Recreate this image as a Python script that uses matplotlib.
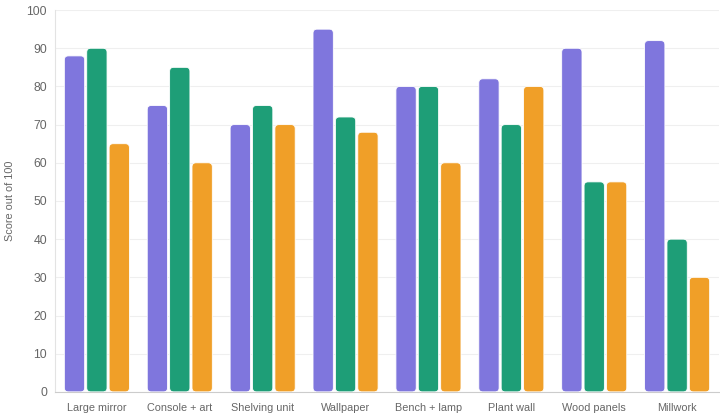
import matplotlib.pyplot as plt
import numpy as np
from matplotlib.patches import FancyBboxPatch

categories = ['Large mirror', 'Console + art', 'Shelving unit', 'Wallpaper',
              'Bench + lamp', 'Plant wall', 'Wood panels', 'Millwork']
series_a = [88, 75, 70, 95, 80, 82, 90, 92]
series_b = [90, 85, 75, 72, 80, 70, 55, 40]
series_c = [65, 60, 70, 68, 60, 80, 55, 30]
colors = ['#7f76dd', '#1e9e77', '#f09f28']

plt.rcParams['font.family'] = ['Liberation Sans', 'DejaVu Sans']

fig = plt.figure(figsize=(7.2, 4.2), dpi=100)
ax = fig.add_axes([0.077, 0.067, 0.921, 0.909])
ax.set_xlim(-0.5, len(categories) - 0.5)
ax.set_ylim(0, 100)

# pixel -> data scale for rounded corners
x_per_px = len(categories) / (0.921 * 720)
y_per_px = 100 / (0.909 * 420)
radius = 4 * x_per_px
aspect = y_per_px / x_per_px

x = np.arange(len(categories))
width = 0.245
offsets = [-0.27, 0.0, 0.27]
for vals, off, c in zip([series_a, series_b, series_c], offsets, colors):
    for xi, v in zip(x, vals):
        p = FancyBboxPatch((xi + off - width / 2, 0), width, v,
                           boxstyle=f'round,pad=0,rounding_size={radius}',
                           mutation_aspect=aspect, facecolor=c,
                           edgecolor='white', linewidth=0.6, zorder=3)
        ax.add_patch(p)

ax.set_yticks(np.arange(0, 101, 10))
ax.set_xticks(x)
ax.set_xticklabels(categories)
ax.grid(axis='y', color='#efefef', linewidth=0.8, zorder=0)
ax.tick_params(axis='both', colors='#666666', labelsize=8.8, length=0)
ax.tick_params(axis='x', pad=8, labelsize=7.8)
ax.tick_params(axis='y', pad=6)
for s in ['top', 'right']:
    ax.spines[s].set_visible(False)
ax.spines['left'].set_color('#e3e3e3')
ax.spines['bottom'].set_color('#cccccc')
ax.set_ylabel('Score out of 100', color='#666666', fontsize=7.8, labelpad=8)

fig.savefig('out.png', dpi=100)
